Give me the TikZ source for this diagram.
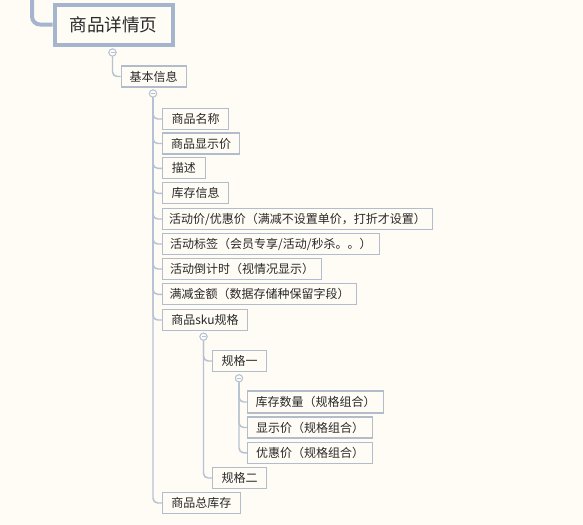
\documentclass[tikz,border=0pt]{standalone}
\usepackage{fontspec}
\newfontfamily\cjk{Noto Sans CJK SC}
\definecolor{bg}{RGB}{255,252,245}
\definecolor{linec}{RGB}{182,194,212}
\definecolor{boxc}{RGB}{178,188,202}
\definecolor{mainc}{RGB}{166,181,206}
\definecolor{txt}{RGB}{40,40,40}
\tikzset{
  leaf/.style={draw=boxc, line width=0.8pt, fill=bg, anchor=west, minimum height={0.75*21}, inner xsep=1.5, inner ysep=0,
    text=txt, font=\cjk\fontsize{9}{9}\selectfont},
  wd/.style={minimum width={0.75*#1}},
  mainbox/.style={draw=mainc, line width=3pt, fill=bg, anchor=west, minimum width={0.75*118}, minimum height={0.75*40},
    text=txt, font=\cjk\fontsize{13.2}{13.2}\selectfont},
  conn/.style={draw=linec, line width=1.1pt, rounded corners=3.5},
  tog/.style={circle, draw=linec, line width=0.7pt, fill=bg, minimum size=5.4pt, inner sep=0,
    path picture={\draw[linec, line width=0.6pt] ([xshift=-1.5pt]path picture bounding box.center) -- ([xshift=1.5pt]path picture bounding box.center);}},
}
\begin{document}
\begin{tikzpicture}[x=0.75pt,y=-0.75pt]
\useasboundingbox[fill=bg] (0,0) rectangle (583,525);
\coordinate (top) at (32,-3);
\node[mainbox] (main) at (52.5,24.5) {商品详情页};
\draw[mainc, line width=3pt, rounded corners=6] (top) |- (main.west);

\node[tog] (t0) at (112.5,52.5) {};
\node[leaf, wd=65] (jb) at (120.5,76.5) {基本信息};
\draw[conn] (t0.south) |- (jb.west);

\node[tog] (t1) at (153,93.5) {};
\node[leaf, wd=66] (a1) at (162,119) {商品名称};
\node[leaf, wd=77] (a2) at (162,143.5) {商品显示价};
\node[leaf, wd=42.5] (a3) at (162,168.3) {描述};
\node[leaf, wd=66] (a4) at (162,193.3) {库存信息};
\node[leaf, wd=270] (a5) at (162,219) {活动价/优惠价（满减不设置单价，打折才设置）};
\node[leaf, wd=216.6] (a6) at (162,244) {活动标签（会员专享/活动/秒杀。。）};
\node[leaf, wd=159.3] (a7) at (162,269) {活动倒计时（视情况显示）};
\node[leaf, wd=194.3] (a8) at (162,294.3) {满减金额（数据存储种保留字段）};
\node[leaf, wd=85] (a9) at (162,320) {商品sku规格};
\node[leaf, wd=77.6] (a10) at (162,503) {商品总库存};
\foreach \n in {a1,a2,a3,a4,a5,a6,a7,a8,a9,a10}{\draw[conn] (t1.south) |- (\n.west);}

\node[tog] (t2) at (203.5,336.7) {};
\node[leaf, wd=54.3] (b1) at (212,361) {规格一};
\node[leaf, wd=54.3] (b2) at (212,478) {规格二};
\foreach \n in {b1,b2}{\draw[conn] (t2.south) |- (\n.west);}

\node[tog] (t3) at (239,378.3) {};
\node[leaf, wd=136, minimum height={0.75*22}] (c1) at (247,402) {库存数量（规格组合）};
\node[leaf, wd=125] (c2) at (247,427.5) {显示价（规格组合）};
\node[leaf, wd=125] (c3) at (247,452.8) {优惠价（规格组合）};
\foreach \n in {c1,c2,c3}{\draw[conn] (t3.south) |- (\n.west);}

% redraw toggles over lines
\foreach \p in {(112.5,52.5),(153,93.5),(203.5,336.7),(239,378.3)}{\node[tog] at \p {};}
\end{tikzpicture}
\end{document}
